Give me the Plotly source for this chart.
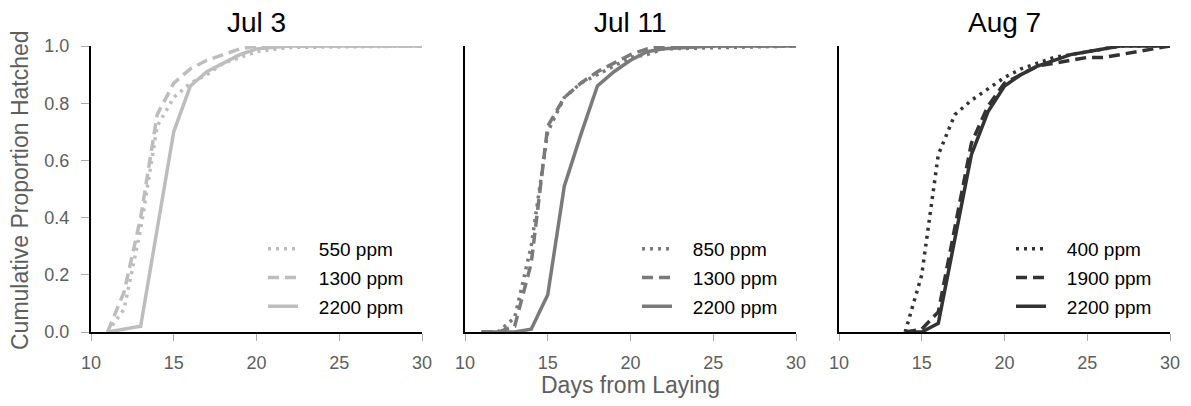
import plotly.graph_objects as go

# ---------------- data ----------------
panel_titles = ["Jul 3", "Jul 11", "Aug 7"]
x_tick_vals = [10, 15, 20, 25, 30]
y_tick_vals = [0.0, 0.2, 0.4, 0.6, 0.8, 1.0]
y_tick_text = ["0.0", "0.2", "0.4", "0.6", "0.8", "1.0"]

# Jul 3
jul3_550_days = [11, 12, 13, 14, 15, 16, 17, 18, 20, 22, 30]
jul3_550_vals = [0.0, 0.08, 0.36, 0.72, 0.82, 0.87, 0.90, 0.94, 0.98, 0.995, 1.0]
jul3_1300_days = [11, 12, 13, 14, 15, 16, 17, 18, 19, 20, 30]
jul3_1300_vals = [0.0, 0.14, 0.40, 0.76, 0.87, 0.92, 0.95, 0.97, 0.99, 1.0, 1.0]
jul3_2200_days = [11, 12, 13, 14, 15, 16, 17, 18, 19, 20, 22, 30]
jul3_2200_vals = [0.0, 0.01, 0.02, 0.36, 0.70, 0.86, 0.91, 0.94, 0.97, 0.99, 1.0, 1.0]

# Jul 11
jul11_850_days = [11, 12, 13, 14, 15, 16, 17, 18, 19, 20, 21, 22, 30]
jul11_850_vals = [0.0, 0.0, 0.05, 0.30, 0.70, 0.82, 0.87, 0.90, 0.93, 0.96, 0.97, 0.99, 1.0]
jul11_1300_days = [11, 12, 13, 14, 15, 16, 17, 18, 19, 20, 21, 22, 30]
jul11_1300_vals = [0.0, 0.0, 0.02, 0.24, 0.72, 0.82, 0.87, 0.91, 0.94, 0.97, 0.99, 1.0, 1.0]
jul11_2200_days = [11, 12, 13, 14, 15, 16, 17, 18, 19, 20, 21, 22, 25, 30]
jul11_2200_vals = [0.0, 0.0, 0.0, 0.01, 0.13, 0.51, 0.69, 0.86, 0.91, 0.95, 0.98, 0.99, 1.0, 1.0]

# Aug 7
aug7_400_days = [14, 15, 16, 17, 18, 19, 20, 21, 22, 23, 24, 25, 26, 27, 30]
aug7_400_vals = [0.0, 0.20, 0.62, 0.76, 0.81, 0.85, 0.89, 0.92, 0.94, 0.96, 0.97, 0.98, 0.99, 1.0, 1.0]
aug7_1900_days = [14, 15, 16, 17, 18, 19, 20, 21, 22, 23, 24, 25, 26, 27, 28, 29, 30]
aug7_1900_vals = [0.0, 0.01, 0.07, 0.36, 0.66, 0.79, 0.87, 0.90, 0.93, 0.94, 0.95, 0.96, 0.96, 0.97, 0.98, 0.99, 1.0]
aug7_2200_days = [14, 15, 16, 17, 18, 19, 20, 21, 22, 23, 24, 25, 26, 27, 30]
aug7_2200_vals = [0.0, 0.0, 0.03, 0.33, 0.62, 0.77, 0.86, 0.90, 0.93, 0.95, 0.97, 0.98, 0.99, 1.0, 1.0]

series = [
    # (panel index, name, days, vals, style)
    (0, "550 ppm", jul3_550_days, jul3_550_vals, "dot"),
    (0, "1300 ppm", jul3_1300_days, jul3_1300_vals, "dash"),
    (0, "2200 ppm", jul3_2200_days, jul3_2200_vals, "solid"),
    (1, "850 ppm", jul11_850_days, jul11_850_vals, "dot"),
    (1, "1300 ppm", jul11_1300_days, jul11_1300_vals, "dash"),
    (1, "2200 ppm", jul11_2200_days, jul11_2200_vals, "solid"),
    (2, "400 ppm", aug7_400_days, aug7_400_vals, "dot"),
    (2, "1900 ppm", aug7_1900_days, aug7_1900_vals, "dash"),
    (2, "2200 ppm", aug7_2200_days, aug7_2200_vals, "solid"),
]

panel_colors = ["#bdbdbd", "#7a7a7a", "#333333"]
dash_map = {"dot": "3px,5px", "dash": "11px,6px", "solid": "solid"}

W, H = 1191, 406
FONT = "Liberation Sans, Arial, sans-serif"
GRAY = "#5e5e5e"
NBSP = "\u00a0"

# pixel geometry of panels
panel_px = [(91, 422), (465, 796), (839, 1170)]
y_top_px, y_bot_px = 46, 332

fig = go.Figure()

for i, (p, name, d, v, style) in enumerate(series):
    sfx = "" if p == 0 else str(p + 1)
    fig.add_trace(go.Scatter(
        x=d, y=v, mode="lines", name=NBSP * 3 + name,
        xaxis="x" + sfx, yaxis="y" + sfx,
        legend="legend" + sfx, legendgroup=f"g{i}",
        line=dict(color=panel_colors[p], width=3.5, dash=dash_map[style]),
        showlegend=True,
    ))

layout = dict(
    width=W, height=H,
    margin=dict(l=0, r=0, t=0, b=0, autoexpand=False),
    paper_bgcolor="white", plot_bgcolor="white",
    font=dict(family=FONT, size=18, color=GRAY),
    showlegend=True,
)

ydom = [(H - y_bot_px) / H, (H - y_top_px) / H]
for p in range(3):
    sfx = "" if p == 0 else str(p + 1)
    x0, x1 = panel_px[p]
    layout["xaxis" + sfx] = dict(
        domain=[x0 / W, x1 / W], range=[10, 30],
        anchor="y" + sfx, automargin=False,
        tickvals=x_tick_vals, ticktext=[str(t) for t in x_tick_vals],
        ticks="outside", ticklen=7, tickwidth=1, tickcolor="#aaaaaa",
        ticklabelstandoff=6,
        showline=True, linecolor="black", linewidth=2,
        showgrid=False, zeroline=False,
        tickfont=dict(size=18, color=GRAY, family=FONT),
    )
    yax = dict(
        domain=ydom, range=[0, 1.0],
        anchor="x" + sfx, automargin=False,
        showline=True, linecolor="black", linewidth=2,
        showgrid=False, zeroline=False,
    )
    if p == 0:
        yax.update(
            tickvals=y_tick_vals, ticktext=y_tick_text,
            ticks="outside", ticklen=8, tickwidth=1, tickcolor="#aaaaaa",
            ticklabelstandoff=8,
            tickfont=dict(size=18, color=GRAY, family=FONT),
        )
    else:
        yax.update(showticklabels=False, ticks="")
    layout["yaxis" + sfx] = yax

    lx = (x0 + 172) / W
    layout["legend" + sfx] = dict(
        x=lx, y=(H - 230) / H, xanchor="left", yanchor="top",
        xref="paper", yref="paper",
        bgcolor="rgba(0,0,0,0)", borderwidth=0,
        font=dict(size=19, color="black", family=FONT),
        tracegroupgap=1, itemwidth=30,
    )

annotations = []
for p in range(3):
    x0, x1 = panel_px[p]
    annotations.append(dict(
        text=panel_titles[p], x=(x0 + x1) / 2 / W, y=(H - 23) / H,
        xref="paper", yref="paper", showarrow=False,
        xanchor="center", yanchor="middle",
        font=dict(size=28, color="black", family=FONT),
    ))
annotations.append(dict(
    text="Days from Laying", x=(541 + 720) / 2 / W, y=(H - 385) / H,
    xref="paper", yref="paper", showarrow=False,
    xanchor="center", yanchor="middle",
    font=dict(size=23, color=GRAY, family=FONT),
))
annotations.append(dict(
    text="Cumulative Proportion Hatched", x=20 / W, y=(H - 190) / H,
    xref="paper", yref="paper", showarrow=False, textangle=-90,
    xanchor="center", yanchor="middle",
    font=dict(size=23, color=GRAY, family=FONT),
))
layout["annotations"] = annotations

fig.update_layout(**layout)
fig.write_html(
    "out.html",
    config={"displayModeBar": False},
    post_script="document.body.style.margin='0px';document.body.style.padding='0px';",
)
